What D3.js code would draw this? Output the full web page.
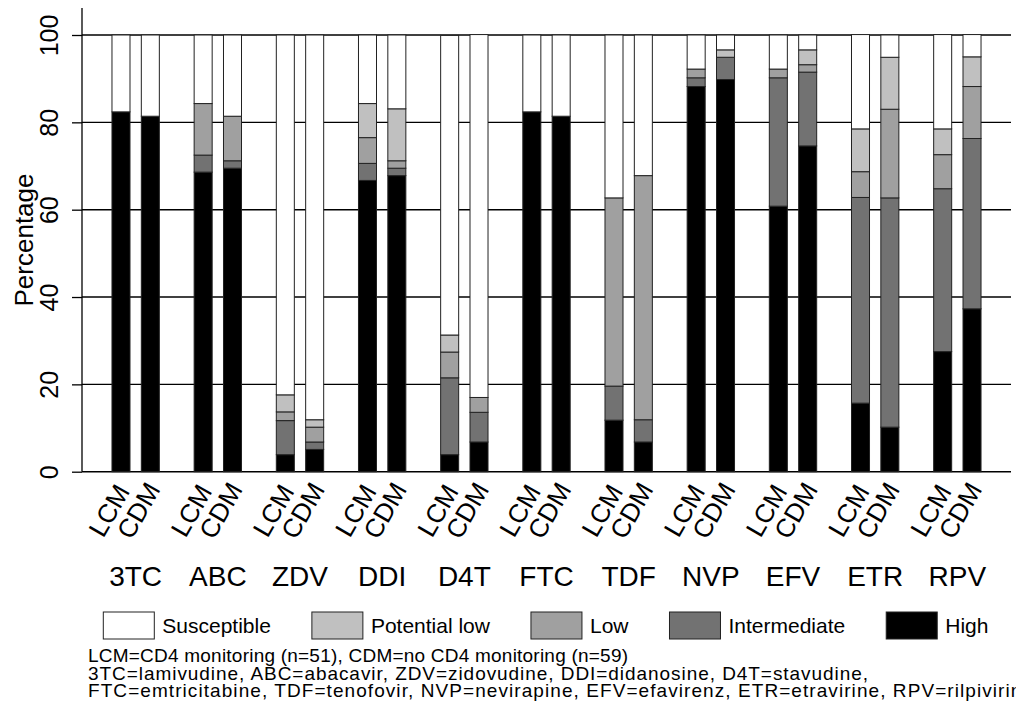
<!DOCTYPE html>
<html>
<head>
<meta charset="utf-8">
<script src="https://cdn.jsdelivr.net/npm/d3@7"></script>
<style>
  body { margin: 0; background: #fff; }
  svg { display: block; font-family: "Liberation Sans", Arial, Helvetica, sans-serif; }
</style>
</head>
<body>
<svg id="chart" width="1016" height="717"></svg>
<script>
// drugs and monitoring arms
var drugs = ['3TC', 'ABC', 'ZDV', 'DDI', 'D4T', 'FTC', 'TDF', 'NVP', 'EFV', 'ETR', 'RPV'];
var arms = ['LCM', 'CDM'];
var levels = ['High', 'Intermediate', 'Low', 'Potential low', 'Susceptible'];
var legendOrder = ['Susceptible', 'Potential low', 'Low', 'Intermediate', 'High'];
var yTicks = [0, 20, 40, 60, 80, 100];

// percentages, LCM arm (n=51)
var lcmHigh         = [82.4, 68.6, 3.9, 66.7, 3.9, 82.4, 11.8, 88.2, 60.8, 15.7, 27.5];
var lcmIntermediate = [0,    3.9,  7.8, 3.9, 17.6, 0,    7.8,  2.0, 29.4, 47.1, 37.3];
var lcmLow          = [0,    11.8, 2.0, 5.9, 5.9,  0,   43.1,  2.0,  2.0,  5.9,  7.8];
var lcmPotLow       = [0,    0,    3.9, 7.8, 3.9,  0,    0,    0,    0,    9.8,  5.9];
var lcmSusceptible  = [17.6, 15.7, 82.4, 15.7, 68.6, 17.6, 37.3, 7.8, 7.8, 21.6, 21.6];

// percentages, CDM arm (n=59)
var cdmHigh         = [81.4, 69.5, 5.1, 67.8, 6.8, 81.4, 6.8, 89.8, 74.6, 10.2, 37.3];
var cdmIntermediate = [0,    1.7,  1.7, 1.7,  6.8, 0,    5.1,  5.1, 16.9, 52.5, 39.0];
var cdmLow          = [0,    10.2, 3.4, 1.7,  3.4, 0,   55.9,  0,    1.7, 20.3, 11.9];
var cdmPotLow       = [0,    0,    1.7, 11.9, 0,   0,    0,    1.7,  3.4, 11.9,  6.8];
var cdmSusceptible  = [18.6, 18.6, 88.1, 16.9, 83.1, 18.6, 32.2, 3.4, 3.4, 5.1, 5.1];

var colors = {
  'Susceptible': '#ffffff',
  'Potential low': '#c0c0c0',
  'Low': '#a0a0a0',
  'Intermediate': '#727272',
  'High': '#000000'
};

var notes = [
  'LCM=CD4 monitoring (n=51), CDM=no CD4 monitoring (n=59)',
  '3TC=lamivudine, ABC=abacavir, ZDV=zidovudine, DDI=didanosine, D4T=stavudine,',
  'FTC=emtricitabine, TDF=tenofovir, NVP=nevirapine, EFV=efavirenz, ETR=etravirine, RPV=rilpivirine'
];
var noteWidths = [540, 780, 945];

// build rows for the stack
var series = {
  LCM: { 'High': lcmHigh, 'Intermediate': lcmIntermediate, 'Low': lcmLow, 'Potential low': lcmPotLow, 'Susceptible': lcmSusceptible },
  CDM: { 'High': cdmHigh, 'Intermediate': cdmIntermediate, 'Low': cdmLow, 'Potential low': cdmPotLow, 'Susceptible': cdmSusceptible }
};
var rows = [];
drugs.forEach(function(drug, i) {
  arms.forEach(function(arm) {
    var r = { drug: drug, arm: arm };
    levels.forEach(function(l) { r[l] = series[arm][l][i]; });
    rows.push(r);
  });
});

var svg = d3.select('#chart');
var plotLeft = 82, plotRight = 1011, plotTop = 35, plotBottom = 471.7;

var x0 = d3.scaleBand().domain(drugs).range([plotLeft, plotRight]).paddingInner(0).paddingOuter(0.153);
var x1 = d3.scaleBand().domain(arms).range([0, x0.bandwidth()]).paddingInner(0.386).paddingOuter(0.593);
var y = d3.scaleLinear().domain([0, 100]).range([plotBottom, plotTop]);

// grid lines
svg.append('g').selectAll('line')
  .data(yTicks)
  .join('line')
  .attr('x1', plotLeft).attr('x2', plotRight)
  .attr('y1', function(d) { return y(d); })
  .attr('y2', function(d) { return y(d); })
  .attr('stroke', '#000')
  .attr('stroke-width', 1.4);

// stacked bars
var stacked = d3.stack().keys(levels)(rows);
svg.append('g').selectAll('g')
  .data(stacked)
  .join('g')
  .attr('fill', function(d) { return colors[d.key]; })
  .selectAll('rect')
  .data(function(d) { return d.filter(function(s) { return s[1] - s[0] > 0; }); })
  .join('rect')
  .attr('x', function(d) { return x0(d.data.drug) + x1(d.data.arm); })
  .attr('width', x1.bandwidth())
  .attr('y', function(d) { return y(d[1]); })
  .attr('height', function(d) { return y(d[0]) - y(d[1]); })
  .attr('stroke', '#222')
  .attr('stroke-width', 1);

// y axis
var yAxis = svg.append('g')
  .attr('transform', 'translate(' + plotLeft + ',0)')
  .call(d3.axisLeft(y).tickValues(yTicks).tickSize(10).tickFormat(d3.format('d')));
yAxis.select('.domain').remove();
yAxis.selectAll('.tick line').attr('stroke', '#000').attr('stroke-width', 1.3);
yAxis.selectAll('.tick text')
  .attr('x', null).attr('dy', null)
  .attr('transform', 'translate(-24,0) rotate(-90)')
  .attr('text-anchor', 'middle')
  .attr('font-size', 25)
  .attr('fill', '#000');
svg.append('line')
  .attr('x1', plotLeft).attr('x2', plotLeft)
  .attr('y1', 8).attr('y2', plotBottom)
  .attr('stroke', '#000').attr('stroke-width', 1.3);

svg.append('text')
  .attr('transform', 'translate(33,240) rotate(-90)')
  .attr('text-anchor', 'middle')
  .attr('font-size', 26)
  .text('Percentage');

// arm labels
svg.append('g').selectAll('text')
  .data(rows)
  .join('text')
  .attr('transform', function(d) {
    var cx = x0(d.drug) + x1(d.arm) + x1.bandwidth() / 2;
    return 'translate(' + (cx - 4) + ',515) rotate(-60)';
  })
  .attr('text-anchor', 'middle')
  .attr('font-size', 26)
  .text(function(d) { return d.arm; });

// drug labels
svg.append('g').selectAll('text')
  .data(drugs)
  .join('text')
  .attr('x', function(d) { return x0(d) + x0.bandwidth() / 2; })
  .attr('y', 586)
  .attr('text-anchor', 'middle')
  .attr('font-size', 28)
  .text(function(d) { return d; });

// legend
var legend = svg.append('g');
var lx = 103.3;
legendOrder.forEach(function(key) {
  legend.append('rect')
    .attr('x', lx).attr('y', 612)
    .attr('width', 51).attr('height', 27)
    .attr('fill', colors[key])
    .attr('stroke', '#222').attr('stroke-width', 1);
  var t = legend.append('text')
    .attr('x', lx + 59).attr('y', 633)
    .attr('font-size', 21)
    .text(key);
  lx += 59 + t.node().getComputedTextLength() + 41;
});

// notes
svg.append('g').selectAll('text')
  .data(notes)
  .join('text')
  .attr('x', 88)
  .attr('y', function(d, i) { return 662 + i * 17.5; })
  .attr('font-size', 19)
  .attr('textLength', function(d, i) { return noteWidths[i]; })
  .attr('lengthAdjust', 'spacing')
  .text(function(d) { return d; });
</script>
</body>
</html>
